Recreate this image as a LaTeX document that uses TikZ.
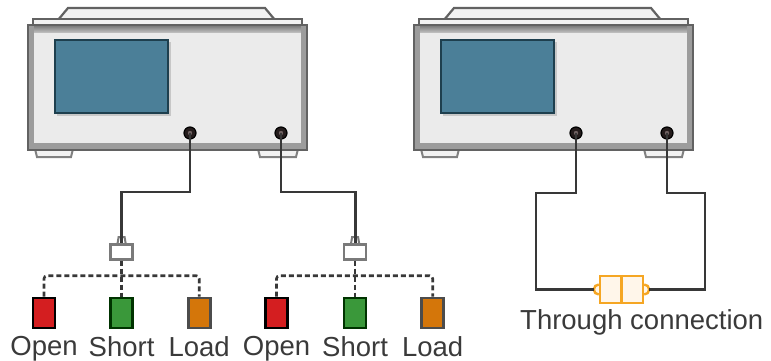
\documentclass[tikz,border=0pt]{standalone}
\usepackage{fontspec}
\setmainfont{Liberation Sans}
\usetikzlibrary{positioning}

\definecolor{casingedge}{HTML}{626262}
\definecolor{lidfill}{HTML}{F2F2F2}
\definecolor{bodyfill}{HTML}{EBEBEB}
\definecolor{bandtop}{HTML}{7E7E7E}
\definecolor{bandbottom}{HTML}{C6C6C6}
\definecolor{sidegray}{HTML}{9C9C9C}
\definecolor{screenblue}{HTML}{4B7F98}
\definecolor{screenedge}{HTML}{1E3F4E}
\definecolor{portfill}{HTML}{241C1C}
\definecolor{portcore}{HTML}{6E6060}
\definecolor{cablegray}{HTML}{383838}
\definecolor{adaptergray}{HTML}{7A7A7A}
\definecolor{openred}{HTML}{D41E20}
\definecolor{shortgreen}{HTML}{3A983A}
\definecolor{loadorange}{HTML}{D4760A}
\definecolor{thruorange}{HTML}{F5A623}
\definecolor{thrufill}{HTML}{FFF6EA}
\definecolor{labelgray}{HTML}{3A3A3A}

\begin{document}
\begin{tikzpicture}[x=1pt, y=-1pt, node distance=53pt]
\tikzset{
    casingline/.style={draw=casingedge, line width=2.2pt},
    port/.style={circle, fill=portfill, draw=black, line width=1.2pt, minimum size=12pt, inner sep=0pt,
        path picture={\fill[portcore] (path picture bounding box.center) circle (2.2pt);}},
    cable/.style={draw=cablegray, line width=2.8pt},
    probe/.style={draw=cablegray, line width=2.6pt, dash pattern=on 5pt off 3pt, rounded corners=3pt},
    adapter/.style={rectangle, draw=adaptergray, fill=white, line width=2.6pt, minimum width=22pt, minimum height=15pt, inner sep=0pt},
    std/.style={rectangle, line width=2.6pt, minimum width=22pt, minimum height=30pt, inner sep=0pt},
    lbl/.style={font=\fontsize{27.5}{30}\selectfont, text=labelgray, inner sep=0pt},
    thruedge/.style={draw=thruorange, line width=2.4pt, fill=thrufill},
    analyzer/.pic={
        % lid and top strip
        \filldraw[fill=lidfill, casingline] (58,20) -- (68,8) -- (265,8) -- (275,20);
        \filldraw[fill=lidfill, casingline] (33,25) -- (33,19) -- (302,19) -- (302,25);
        % feet
        \filldraw[fill=lidfill, draw=casingedge!80, line width=2pt] (35,149) -- (37,157) -- (71,157) -- (73,149);
        \filldraw[fill=lidfill, draw=casingedge!80, line width=2pt] (258,149) -- (260,157) -- (296,157) -- (298,149);
        % body
        \fill[bodyfill] (28,25) rectangle (307,150);
        \shade[top color=bandtop, bottom color=bandbottom] (29,26) rectangle (306,33);
        \fill[sidegray] (29,143) rectangle (306,149);
        \fill[sidegray] (29,26) rectangle (34,149);
        \fill[sidegray] (301,26) rectangle (306,149);
        \draw[casingedge, line width=2.6pt] (28,25) rectangle (307,150);
        % display
        \fill[black!22] (57,42) rectangle (171,116);
        \filldraw[fill=screenblue, draw=screenedge, line width=2pt] (55,40) rectangle (168,113);
        % test ports
        \node[port] (-p1) at (190,133) {};
        \node[port] (-p2) at (281,133) {};
    }
}
\useasboundingbox (0,0) rectangle (771,361);

\pic (lv) at (0,0) {analyzer};
\pic (rv) at (386,0) {analyzer};

% calibration standards, port 1
\node[std, draw=black, fill=openred] (openA) at (44,313) {};
\node[std, draw=black!80!green, fill=shortgreen, right=of openA] (shortA) {};
\node[std, draw=black!70, fill=loadorange, right=of shortA] (loadA) {};
\node[adapter, above=36pt of shortA] (adA) {};

% calibration standards, port 2
\node[std, draw=black, fill=openred] (openB) at (276.5,313) {};
\node[std, draw=black!80!green, fill=shortgreen, right=54pt of openB] (shortB) {};
\node[std, draw=black!70, fill=loadorange, right=of shortB] (loadB) {};
\node[adapter, above=36pt of shortB] (adB) {};

\foreach \s/\t in {openA/Open, shortA/Short, loadA/Load, openB/Open, shortB/Short, loadB/Load}
    \node[lbl, below=7pt of \s] {\t};

% adapter tips
\foreach \a in {adA, adB}
    \draw[adaptergray, line width=2pt] ([xshift=-4pt]\a.north) -- ++(1,-6) -- ++(6,0) -- ++(1,6);

\draw[cable] (lv-p1.center) -- ++(0,59) -| (adA.north);
\draw[cable] (lv-p2.center) -- ++(0,59) -| (adB.north);

\draw[probe] (adA.south) -- (shortA.north);
\draw[probe] (openA.north) -- ++(0,-21) -| (loadA.north);
\draw[probe] (adB.south) -- (shortB.north);
\draw[probe] (openB.north) -- ++(0,-21) -| (loadB.north);

% through adapter between both ports
\node[rectangle, thruedge, minimum width=43pt, minimum height=27pt, inner sep=0pt] (thru) at (621.5,289.5) {};
\draw[thruorange, line width=2.4pt] (thru.north) -- (thru.south);
\draw[thruedge] ([yshift=5pt]thru.west) arc[start angle=90, end angle=270, radius=5pt];
\draw[thruedge] ([yshift=5pt]thru.east) arc[start angle=90, end angle=-90, radius=5pt];

\draw[cable] (rv-p1.center) -- ++(0,60) -- ++(-40,0) |- ([xshift=-5pt]thru.west);
\draw[cable] (rv-p2.center) -- ++(0,60) -- ++(38,0) |- ([xshift=5pt]thru.east);

\node[lbl, anchor=north west] (thrutext) at (520,309) {Through connection};
\end{tikzpicture}
\end{document}
